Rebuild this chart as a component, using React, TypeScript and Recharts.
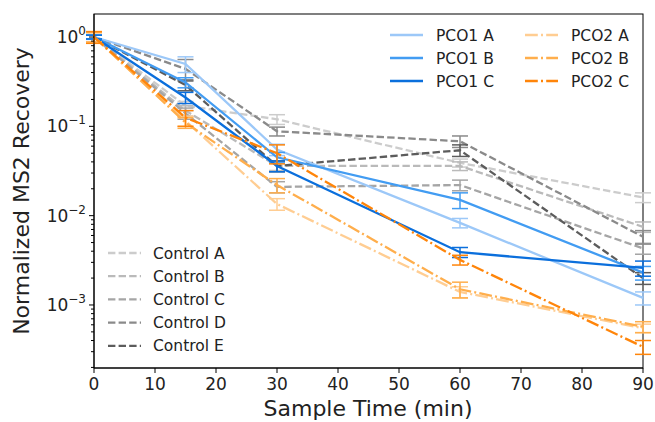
import { LineChart, Line, XAxis, YAxis, ErrorBar, Label, Customized } from "recharts";

// sample times (min)
const TIMES = [0, 15, 30, 60, 90];

const PCO1_A = [1.0, 0.5, 0.055, 0.0083, 0.0012];
const PCO1_A_ERR = [0.06, 0.1, 0.008, 0.001, 0.0002];
const PCO1_B = [1.0, 0.31, 0.045, 0.015, 0.0023];
const PCO1_B_ERR = [0.05, 0.04, 0.006, 0.003, 0.0004];
const PCO1_C = [1.0, 0.21, 0.036, 0.0039, 0.0026];
const PCO1_C_ERR = [0.05, 0.03, 0.005, 0.0005, 0.0005];

const PCO2_A = [1.0, 0.115, 0.0135, 0.0014, 0.00055];
const PCO2_A_ERR = [0.12, 0.015, 0.002, 0.0002, 0.00006];
const PCO2_B = [1.0, 0.11, 0.022, 0.0015, 0.00057];
const PCO2_B_ERR = [0.12, 0.015, 0.004, 0.0003, 0.00008];
const PCO2_C = [1.0, 0.125, 0.05, 0.0032, 0.00034];
const PCO2_C_ERR = [0.15, 0.025, 0.012, 0.0004, 0.00006];

const CONTROL_A = [1.0, 0.17, 0.12, 0.039, 0.016];
const CONTROL_A_ERR = [0.05, 0.02, 0.015, 0.004, 0.002];
const CONTROL_B = [1.0, 0.15, 0.036, 0.036, 0.0075];
const CONTROL_B_ERR = [0.05, 0.02, 0.004, 0.004, 0.001];
const CONTROL_C = [1.0, 0.14, 0.021, 0.022, 0.0043];
const CONTROL_C_ERR = [0.05, 0.02, 0.003, 0.003, 0.0006];
const CONTROL_D = [1.0, 0.44, 0.088, 0.068, 0.0058];
const CONTROL_D_ERR = [0.05, 0.12, 0.01, 0.01, 0.001];
const CONTROL_E = [1.0, 0.29, 0.036, 0.054, 0.002];
const CONTROL_E_ERR = [0.05, 0.04, 0.005, 0.008, 0.0003];

const X_TICKS = [0, 10, 20, 30, 40, 50, 60, 70, 80, 90];

const FONT = "DejaVu Sans, sans-serif";
const DASHED = "7.4 3.2";
const DASHDOT = "12.8 3.2 2 3.2";

const SERIES = [
  { key: "ca", name: "Control A", values: CONTROL_A, err: CONTROL_A_ERR, color: "#cccccc", dash: DASHED },
  { key: "cb", name: "Control B", values: CONTROL_B, err: CONTROL_B_ERR, color: "#bababa", dash: DASHED },
  { key: "cc", name: "Control C", values: CONTROL_C, err: CONTROL_C_ERR, color: "#a5a5a5", dash: DASHED },
  { key: "cd", name: "Control D", values: CONTROL_D, err: CONTROL_D_ERR, color: "#8a8a8a", dash: DASHED },
  { key: "ce", name: "Control E", values: CONTROL_E, err: CONTROL_E_ERR, color: "#5c5c5c", dash: DASHED },
  { key: "p1a", name: "PCO1 A", values: PCO1_A, err: PCO1_A_ERR, color: "#9cc8f8", dash: undefined },
  { key: "p1b", name: "PCO1 B", values: PCO1_B, err: PCO1_B_ERR, color: "#429cf2", dash: undefined },
  { key: "p1c", name: "PCO1 C", values: PCO1_C, err: PCO1_C_ERR, color: "#0b6fdc", dash: undefined },
  { key: "p2a", name: "PCO2 A", values: PCO2_A, err: PCO2_A_ERR, color: "#ffcd92", dash: DASHDOT },
  { key: "p2b", name: "PCO2 B", values: PCO2_B, err: PCO2_B_ERR, color: "#ffae4c", dash: DASHDOT },
  { key: "p2c", name: "PCO2 C", values: PCO2_C, err: PCO2_C_ERR, color: "#ff850a", dash: DASHDOT },
];

const rows = TIMES.map((t, i) => {
  const r: Record<string, number> = { t };
  SERIES.forEach((s) => {
    r[s.key] = s.values[i];
    r[s.key + "Err"] = s.err[i];
  });
  return r;
});

// log ticks: decades plus 2..9 minors
const yTicks: number[] = [];
for (let e = -4; e <= 0; e++) {
  for (let m = 1; m <= 9; m++) {
    const v = m * Math.pow(10, e);
    if (v >= 1.97e-4 && v <= 1.81) yTicks.push(v);
  }
}

const PLOT = { left: 94, top: 14, right: 643, bottom: 368 };

function YTick(props: any) {
  const { x, y, payload } = props;
  const v = payload.value;
  const lg = Math.log10(v);
  const major = Math.abs(lg - Math.round(lg)) < 1e-6;
  const exp = Math.round(lg);
  return (
    <g>
      <line x1={x} x2={x - (major ? 5 : 3)} y1={y} y2={y} stroke="#000" strokeWidth={1} />
      {major && (
        <text x={x - 8} y={y + 6} textAnchor="end" fontSize={17} fontFamily={FONT} fill="#222">
          10
          <tspan dy={-8} fontSize={12}>{exp === 0 ? "0" : "\u2212" + Math.abs(exp)}</tspan>
        </text>
      )}
    </g>
  );
}

function XTick(props: any) {
  const { x, y, payload } = props;
  return (
    <g>
      <line x1={x} x2={x} y1={y} y2={y + 5} stroke="#000" strokeWidth={1} />
      <text x={x} y={y + 22} textAnchor="middle" fontSize={17} fontFamily={FONT} fill="#222">
        {payload.value}
      </text>
    </g>
  );
}

function Legends() {
  const top = SERIES.slice(5);
  const ctrl = SERIES.slice(0, 5);
  return (
    <g fontFamily={FONT} fontSize={15.5} fill="#222">
      {top.map((s, i) => {
        const col = Math.floor(i / 3);
        const row = i % 3;
        const lx = col === 0 ? 390 : 525;
        const cy = 35 + row * 23;
        return (
          <g key={s.key}>
            <line x1={lx} x2={lx + 33} y1={cy} y2={cy} stroke={s.color} strokeWidth={2.3} strokeDasharray={s.dash} />
            <text x={lx + 46} y={cy + 5.5}>{s.name}</text>
          </g>
        );
      })}
      {ctrl.map((s, i) => {
        const cy = 253 + i * 23.2;
        return (
          <g key={s.key}>
            <line x1={108} x2={141} y1={cy} y2={cy} stroke={s.color} strokeWidth={2.3} strokeDasharray={s.dash} />
            <text x={153} y={cy + 5.5}>{s.name}</text>
          </g>
        );
      })}
      <rect
        x={PLOT.left}
        y={PLOT.top}
        width={PLOT.right - PLOT.left}
        height={PLOT.bottom - PLOT.top}
        fill="none"
        stroke="#000"
        strokeWidth={1}
      />
    </g>
  );
}

export default function App() {
  return (
    <div style={{ position: "absolute", left: 0, top: 0, background: "#fff" }}>
      <LineChart width={655} height={422} data={rows} margin={{ top: 14, right: 12, bottom: 0, left: 0 }}>
        <XAxis
          dataKey="t"
          type="number"
          domain={[0, 90]}
          ticks={X_TICKS}
          interval={0}
          height={54}
          tickSize={0}
          tickMargin={0}
          tickLine={false}
          axisLine={{ stroke: "#000" }}
          tick={<XTick />}
        >
          <Label
            content={() => (
              <text x={368} y={416} textAnchor="middle" fontSize={22} fontFamily={FONT} fill="#222">
                Sample Time (min)
              </text>
            )}
          />
        </XAxis>
        <YAxis
          scale="log"
          domain={[1.97e-4, 1.81]}
          allowDataOverflow
          ticks={yTicks}
          interval={0}
          width={94}
          tickSize={0}
          tickMargin={0}
          tickLine={false}
          axisLine={{ stroke: "#000" }}
          tick={<YTick />}
        >
          <Label
            content={() => (
              <text
                x={29}
                y={191}
                transform="rotate(-90 29 191)"
                textAnchor="middle"
                fontSize={22}
                fontFamily={FONT}
                fill="#222"
              >
                Normalized MS2 Recovery
              </text>
            )}
          />
        </YAxis>
        {SERIES.map((s) => (
          <Line
            key={s.key}
            dataKey={s.key}
            name={s.name}
            type="linear"
            stroke={s.color}
            strokeWidth={2.3}
            strokeDasharray={s.dash}
            dot={false}
            activeDot={false}
            isAnimationActive={false}
          >
            <ErrorBar dataKey={s.key + "Err"} direction="y" width={8} stroke={s.color} strokeWidth={1.5} />
          </Line>
        ))}
        <Customized component={<Legends />} />
      </LineChart>
    </div>
  );
}
